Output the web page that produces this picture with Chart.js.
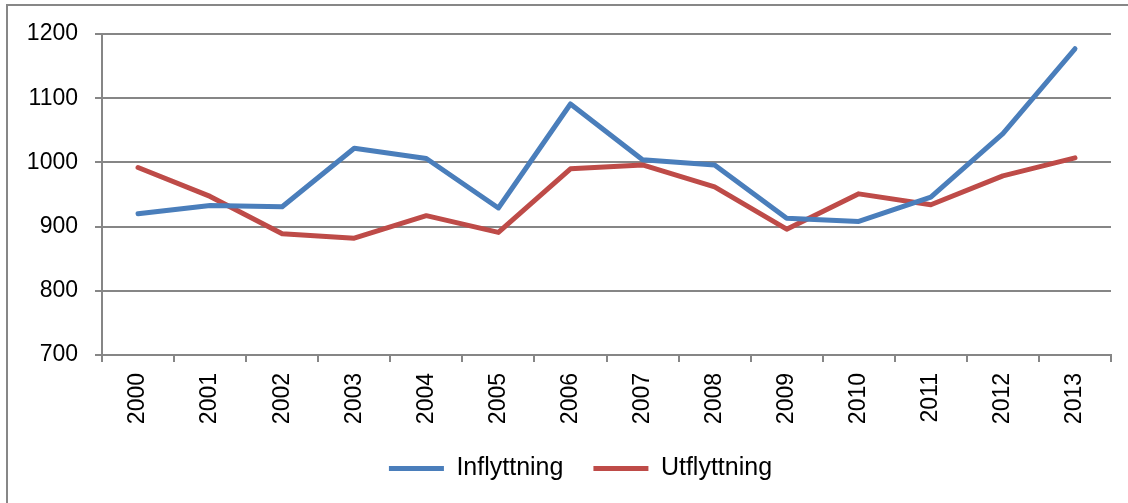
<!DOCTYPE html>
<html lang="sv">
<head>
  <meta charset="UTF-8" />
  <title>Inflyttning och utflyttning</title>
  <script src="https://cdn.jsdelivr.net/npm/chart.js"></script>
  <style>
    html, body { margin: 0; padding: 0; background: #fff; overflow: hidden; }
    #wrap { position: relative; width: 1128px; height: 503px; }
    #frame { position: absolute; left: 6px; top: 4px; width: 1200px; height: 600px;
             border: 2px solid #878787; pointer-events: none; }
  </style>
</head>
<body>
  <div id="wrap">
    <canvas id="chart" width="1128" height="503"></canvas>
    <div id="frame"></div>
  </div>
  <script>
    const years = ['2000', '2001', '2002', '2003', '2004', '2005', '2006',
                   '2007', '2008', '2009', '2010', '2011', '2012', '2013'];
    const inflyttning = [920, 933, 931, 1022, 1006, 929, 1091, 1004, 996, 913, 908, 946, 1045, 1177];
    const utflyttning = [992, 947, 889, 882, 917, 891, 990, 996, 962, 896, 951, 934, 979, 1007];
    const yTicks = [700, 800, 900, 1000, 1100, 1200];

    const gridGray = '#868686';
    const font = { family: "'Liberation Sans', Arial, sans-serif", size: 23 };

    // shared line look for both series (legend reads it from the dataset)
    const lineStyle = { borderWidth: 5, borderCapStyle: 'round', borderJoinStyle: 'round', tension: 0, pointRadius: 0 };

    // nudge the legend a little right/down, like the original
    const nudgeLegend = {
      id: 'nudgeLegend',
      afterLayout(chart) {
        const lg = chart.legend;
        lg.left += 25;
        lg.right += 25;
        lg.top += 2;
        lg.bottom += 2;
      }
    };

    new Chart(document.getElementById('chart'), {
      type: 'line',
      data: {
        labels: years,
        datasets: [
          { label: 'Inflyttning', data: inflyttning, borderColor: '#4a7ebb', backgroundColor: '#4a7ebb', ...lineStyle },
          { label: 'Utflyttning', data: utflyttning, borderColor: '#be4b48', backgroundColor: '#be4b48', ...lineStyle }
        ]
      },
      plugins: [nudgeLegend],
      options: {
        responsive: false,
        animation: false,
        layout: { padding: { top: 34, right: 17, left: 0, bottom: 14 } },
        plugins: {
          tooltip: { enabled: false },
          legend: {
            position: 'bottom',
            labels: {
              usePointStyle: true,
              pointStyle: 'line',
              pointStyleWidth: 55,
              boxHeight: 20,
              padding: 30,
              color: '#000',
              font: { family: font.family, size: 25 }
            }
          }
        },
        scales: {
          x: {
            offset: true,
            grid: { offset: true, drawOnChartArea: false, drawTicks: true, tickLength: 7, color: gridGray, lineWidth: 2 },
            border: { display: true, color: gridGray, width: 2 },
            ticks: { color: '#000', font: font, maxRotation: 90, minRotation: 90, padding: 11 },
            afterFit: s => { s.height = 69; }
          },
          y: {
            min: 700,
            max: 1200,
            afterBuildTicks: s => { s.ticks = yTicks.map(v => ({ value: v })); },
            grid: { color: gridGray, lineWidth: 2, tickLength: 7 },
            border: { display: true, color: gridGray, width: 2 },
            ticks: { color: '#000', font: font, padding: 17, callback: v => String(v) },
            afterFit: s => { s.width = 102; }
          }
        }
      }
    });
  </script>
</body>
</html>
